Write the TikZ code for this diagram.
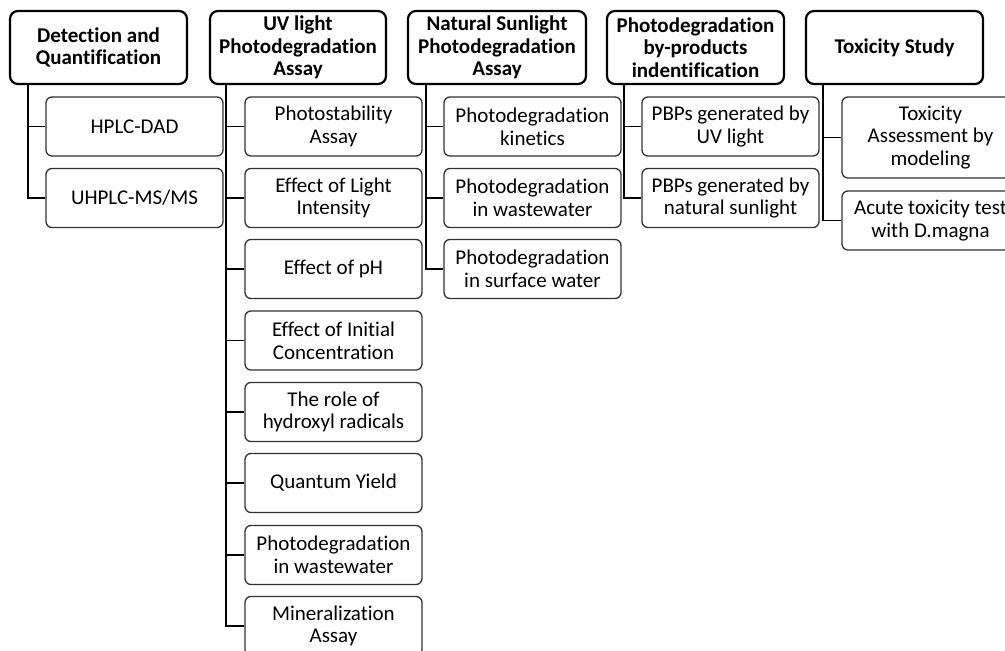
\documentclass[tikz,border=0pt]{standalone}
\usepackage{fontspec}
\setmainfont{Carlito}[Ligatures=NoCommon]
\begin{document}
\begin{tikzpicture}[x=1pt,y=-1pt,
  hdr/.style={draw=black, line width=2.2pt, rounded corners=8pt, minimum width=177pt, minimum height=73pt, align=center, inner sep=0pt, font=\fontsize{21}{22.7}\selectfont\bfseries},
  sub/.style={draw=black!80, line width=1.3pt, rounded corners=6pt, minimum width=177pt, minimum height=59pt, align=center, inner sep=0pt, font=\fontsize{21}{22.7}\selectfont},
  conn/.style={line width=1.9pt, black}]
\useasboundingbox (0,0) rectangle (1005,651);
\clip (0,0) rectangle (1005,651);
% headers
\node[hdr] (det) at (98.5,47.5) {Detection and\\Quantification};
\node[hdr, minimum width=176pt] (uv) at (298,47.5) {UV light\\Photodegradation\\Assay};
\node[hdr, minimum width=178pt] (nat) at (497,47.5) {Natural Sunlight\\Photodegradation\\Assay};
\node[hdr] (pbp) at (695.5,47.5) {Photodegradation\\by-products\\indentification};
\node[hdr] (tox) at (894.5,47.5) {Toxicity Study};
% detection
\node[sub] (d1) at (134.5,126.5) {HPLC-DAD};
\node[sub] (d2) at (134.5,198) {UHPLC-MS/MS};
% uv
\node[sub] (u1) at (333.5,126.5) {Photostability\\Assay};
\node[sub] (u2) at (333.5,198) {Effect of Light\\Intensity};
\node[sub] (u3) at (333.5,269) {Effect of pH};
\node[sub] (u4) at (333.5,340.5) {Effect of Initial\\Concentration};
\node[sub] (u5) at (333.5,412) {The role of\\hydroxyl radicals};
\node[sub] (u6) at (333.5,483) {Quantum Yield};
\node[sub] (u7) at (333.5,555) {Photodegradation\\in wastewater};
\node[sub] (u8) at (333.5,626) {Mineralization\\Assay};
% natural
\node[sub] (n1) at (532.5,126.5) {Photodegradation\\kinetics};
\node[sub] (n2) at (532.5,198) {Photodegradation\\in wastewater};
\node[sub] (n3) at (532.5,269) {Photodegradation\\in surface water};
% pbp
\node[sub] (p1) at (730.5,126.5) {PBPs generated by\\UV light};
\node[sub] (p2) at (730.5,198) {PBPs generated by\\natural sunlight};
% tox
\node[sub, minimum height=81pt] (t1) at (930.5,137.5) {Toxicity\\Assessment by\\modeling};
\node[sub] (t2) at (930.5,220.5) {Acute toxicity test\\with D.magna};
% connectors
\foreach \c in {d1,d2} \draw[conn] ([xshift=19pt]det.south west) |- (\c.west);
\foreach \c in {u1,u2,u3,u4,u5,u6,u7,u8} \draw[conn] ([xshift=17pt]uv.south west) |- (\c.west);
\foreach \c in {n1,n2,n3} \draw[conn] ([xshift=19pt]nat.south west) |- (\c.west);
\foreach \c in {p1,p2} \draw[conn] ([xshift=18pt]pbp.south west) |- (\c.west);
\foreach \c in {t1,t2} \draw[conn] ([xshift=18pt]tox.south west) |- (\c.west);
\end{tikzpicture}
\end{document}
